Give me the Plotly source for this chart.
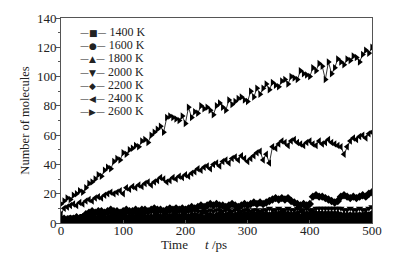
import plotly.graph_objects as go

time_ps = list(range(0, 505, 5))

labels = ["1400 K", "1600 K", "1800 K", "2000 K", "2200 K", "2400 K", "2600 K"]
symbols = ["square", "circle", "triangle-up", "triangle-down", "diamond", "triangle-left", "triangle-right"]
legend_glyphs = ["\u25A0", "\u25CF", "\u25B2", "\u25BC", "\u25C6", "\u25C0", "\u25B6"]

k1400 = [0,0,1,0,1,0,1,1,0,1,
         1,0,1,1,1,0,1,1,1,1,
         1,1,0,1,1,1,2,1,1,1,
         1,2,1,1,2,1,1,2,1,1,
         2,1,1,2,1,2,2,1,2,2,
         1,2,2,1,2,2,2,1,2,2,
         2,2,1,2,2,2,1,2,2,2,
         2,1,2,2,2,2,2,1,2,2,
         2,2,2,2,2,1,1,1,1,1,
         1,1,1,1,2,2,2,2,2,2,
         2]
k1600 = [1,1,2,1,2,2,1,2,2,3,
         2,3,2,3,3,2,3,3,2,3,
         3,3,2,3,3,4,3,3,4,3,
         3,4,3,4,3,4,4,3,4,4,
         3,4,4,5,4,4,3,4,5,4,
         4,5,4,4,5,4,4,5,4,5,
         5,4,5,5,4,5,5,4,5,5,
         4,5,5,4,5,5,5,4,5,5,
         5,5,5,6,5,5,5,5,5,5,
         5,5,5,5,5,5,5,5,5,5,
         6]
k1800 = [2,2,3,3,2,3,3,4,3,4,
         4,3,4,5,4,4,5,4,5,5,
         4,5,5,4,5,6,5,5,4,5,
         5,6,5,5,6,5,6,6,5,6,
         6,5,6,6,5,6,7,6,6,5,
         6,7,6,6,7,6,6,7,6,7,
         7,6,7,7,6,7,7,6,7,7,
         7,8,7,7,6,7,7,8,7,7,
         7,8,7,7,7,7,7,7,7,7,
         6,6,6,6,6,6,6,6,7,6,
         7]
k2000 = [2,3,3,4,3,4,4,5,5,6,
         5,6,6,5,6,6,7,6,6,7,
         6,7,7,6,7,7,6,7,7,8,
         7,7,8,7,7,8,8,7,8,8,
         7,8,8,9,8,8,9,8,9,8,
         9,9,8,9,9,8,9,9,8,9,
         9,8,9,9,8,9,9,10,9,9,
         10,9,9,10,9,9,10,9,9,10,
         9,9,10,10,10,10,10,10,10,10,
         10,9,9,10,9,9,10,9,9,10,
         11]
k2200 = [3,3,2,3,3,4,3,4,6,7,
         8,7,8,8,7,8,9,8,8,7,
         8,9,8,8,9,8,9,9,8,9,
         10,9,9,8,9,10,9,10,9,10,
         9,10,11,10,11,12,11,12,13,12,
         13,12,12,11,12,13,12,11,12,13,
         12,13,14,13,14,13,14,15,16,17,
         16,17,16,17,15,14,13,12,13,12,
         13,18,19,18,18,17,16,15,14,15,
         18,19,18,17,18,17,18,19,18,20,
         21]
k2400 = [6,10,11,12,13,12,14,13,15,16,
         15,17,18,17,19,20,21,20,21,22,
         20,24,23,25,24,26,25,27,28,26,
         28,29,31,30,28,29,31,30,32,31,
         33,32,34,35,37,36,38,39,37,40,
         41,39,42,43,41,44,45,43,46,44,
         42,44,46,48,49,43,47,41,52,51,
         54,56,55,53,56,57,55,54,53,55,
         56,54,53,56,54,55,57,55,54,53,
         52,47,52,56,58,57,59,60,58,61,
         62]
k2600 = [13,15,17,16,19,20,22,21,24,27,
         28,30,33,32,36,38,37,42,44,43,
         48,47,50,51,53,52,56,57,55,60,
         62,64,66,62,72,73,72,71,70,73,
         68,79,72,76,75,80,78,79,77,74,
         80,82,79,77,84,81,83,85,86,84,
         83,90,86,92,88,92,95,91,96,94,
         93,97,98,95,100,99,98,104,102,101,
         100,106,104,109,107,98,110,102,106,112,
         110,108,112,111,114,113,110,115,118,116,
         120]

series = [k1400, k1600, k1800, k2000, k2200, k2400, k2600]

SERIF = "Liberation Serif, Times New Roman, serif"
TXT = "#222"

fig = go.Figure()
for name, sym, vals in zip(labels, symbols, series):
    fig.add_trace(go.Scatter(
        x=time_ps, y=vals, name=name, mode="lines+markers",
        line=dict(color="black", width=0.8),
        marker=dict(symbol=sym, size=6.5, color="black", line=dict(width=0)),
        showlegend=False,
    ))

# The page body has an 8 px default margin, so the figure is sized to fit the window.
FIG_W, FIG_H = 397, 253
M_L, M_R, M_T, M_B = 52.5, 33, 10, 38
plot_h = FIG_H - M_T - M_B

# compact legend (entries stacked as in the reference)
annotations = []
for i, (name, g) in enumerate(zip(labels, legend_glyphs)):
    ypx = 24 + 13.2 * i  # figure-pixel row centre
    annotations.append(dict(
        text=('<span style="font-family:DejaVu Sans;font-size:9px">\u2014' + g +
              '\u2014</span> ' + name),
        xref="paper", yref="paper", x=0.055, y=(M_T + plot_h - ypx) / plot_h,
        xanchor="left", yanchor="middle", showarrow=False,
        font=dict(family=SERIF, size=12, color=TXT)))

annotations += [
    dict(text="Time", xref="paper", yref="paper", x=0.366, y=-0.107,
         xanchor="center", yanchor="middle", showarrow=False,
         font=dict(family=SERIF, size=13, color=TXT)),
    dict(text="<i>t</i> /ps", xref="paper", yref="paper", x=0.499, y=-0.107,
         xanchor="center", yanchor="middle", showarrow=False,
         font=dict(family=SERIF, size=13, color=TXT)),
]

fig.update_layout(
    width=FIG_W, height=FIG_H,
    margin=dict(l=M_L, r=M_R, t=M_T, b=M_B),
    paper_bgcolor="white", plot_bgcolor="white",
    font=dict(family=SERIF, size=13, color=TXT),
    showlegend=False,
    xaxis=dict(range=[0, 500], dtick=100, showgrid=False, zeroline=False,
               showline=True, linecolor="#555", linewidth=1, mirror=True,
               ticks="inside", ticklen=3, tickcolor="#555", automargin=False,
               ticklabelstandoff=-5,
               tickfont=dict(family=SERIF, size=13)),
    yaxis=dict(range=[0, 140], dtick=20, showgrid=False, zeroline=False,
               showline=True, linecolor="#555", linewidth=1, mirror=True,
               ticks="outside", ticklen=4, tickcolor="#555", automargin=False,
               ticklabelstandoff=-3,
               minor=dict(dtick=10, ticks="outside", ticklen=2, tickcolor="#555"),
               tickfont=dict(family=SERIF, size=13),
               title=dict(text="Number of molecules", standoff=4,
                          font=dict(family=SERIF, size=12.5))),
    annotations=annotations,
)

fig.write_html("out.html")
